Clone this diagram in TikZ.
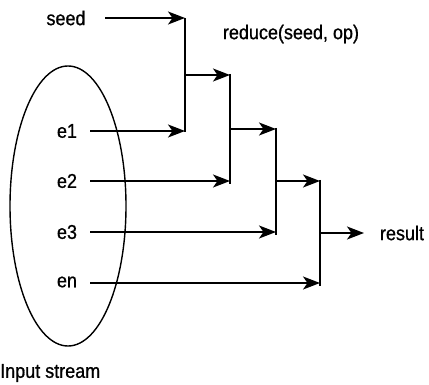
\documentclass[tikz,border=0pt]{standalone}
\usepackage{fontspec}
\setmainfont{Liberation Sans}[FakeStretch=0.9,FakeBold=0.8]
\usetikzlibrary{arrows.meta,shapes.geometric}
\begin{document}
\begin{tikzpicture}[x=1pt,y=-1pt,
  lbl/.style={inner sep=0pt,font=\fontsize{20}{22}\selectfont},
  flow/.style={line width=1.9pt,-{Stealth[length=17pt,width=13pt,inset=4.5pt]}},
  bar/.style={line width=1.9pt}]
\useasboundingbox (0,0) rectangle (429,385);
\node[lbl] (seed) at (66,18) {seed};
\node[lbl] (e1) at (67,131) {e1};
\node[lbl] (e2) at (67,181) {e2};
\node[lbl] (e3) at (67,232) {e3};
\node[lbl] (en) at (67,282) {en};
\node[lbl] (red) at (291,34) {reduce(seed, op)};
\node[lbl] (res) at (402,233) {result};
\node[lbl,anchor=west] (inp) at (0,373) {Input stream};
\node[draw,line width=1.4pt,ellipse,minimum width=116pt,minimum height=280pt,inner sep=0pt] (ell) at (68,206) {};
% bars
\coordinate (b1t) at (185,18); \coordinate (b1b) at (185,132);
\coordinate (b2t) at (230,74); \coordinate (b2b) at (230,184);
\coordinate (b3t) at (276,128); \coordinate (b3b) at (276,235);
\coordinate (b4t) at (320,180); \coordinate (b4b) at (320,286);
\draw[bar] (b1t) -- (b1b);
\draw[bar] (b2t) -- (b2b);
\draw[bar] (b3t) -- (b3b);
\draw[bar] (b4t) -- (b4b);
\coordinate (s0) at (105,18);
\coordinate (s1) at (90,131);
\coordinate (s2) at (90,181);
\coordinate (s3) at (90,232);
\coordinate (s4) at (90,283);
\draw[flow] (s0) -- (b1t);
\draw[flow] (s1) -- (b1t |- s1);
\draw[flow] (s2) -- (b2t |- s2);
\draw[flow] (s3) -- (b3t |- s3);
\draw[flow] (s4) -- (b4t |- s4);
\draw[flow] (185,75) -- (b2t |- 0,75);
\draw[flow] (230,129) -- (b3t |- 0,129);
\draw[flow] (276,181) -- (b4t |- 0,181);
\draw[flow] (320,233) -- (364,233);
\end{tikzpicture}
\end{document}
